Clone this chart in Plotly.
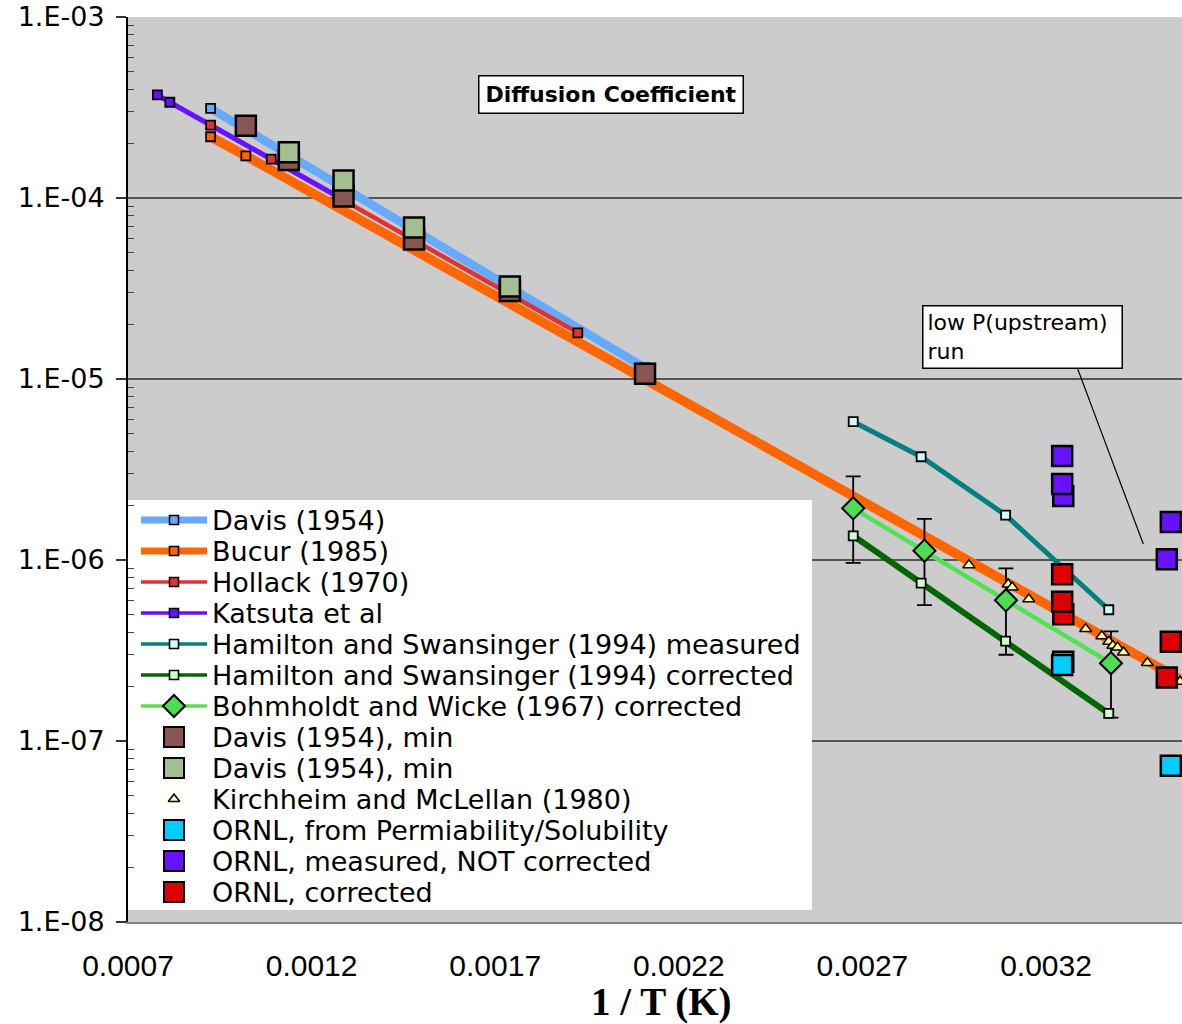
import plotly.graph_objects as go

# ---------------------------------------------------------------------------
# Data: inverse temperature 1/T (1/K) and hydrogen diffusion coefficient D
# ---------------------------------------------------------------------------
davis_x = [0.000925, 0.002108]
davis_y = [3.13e-4, 1.15e-5]

bucur_x = [0.000925, 0.001021, 0.0036]
bucur_y = [2.18e-4, 1.71e-4, 2.0e-7]

hollack_x = [0.000925, 0.00109, 0.001925]
hollack_y = [2.53e-4, 1.64e-4, 1.80e-5]

katsuta_x = [0.00078, 0.000814, 0.001287]
katsuta_y = [3.71e-4, 3.38e-4, 9.8e-5]

ham_meas_x = [0.002675, 0.00286, 0.00309, 0.003371]
ham_meas_y = [5.81e-6, 3.72e-6, 1.77e-6, 5.31e-7]

ham_corr_x = [0.002675, 0.00286, 0.00309, 0.003371]
ham_corr_y = [1.36e-6, 7.46e-7, 3.56e-7, 1.42e-7]

bohm_x = [0.002675, 0.002869, 0.003091, 0.003377]
bohm_y = [1.93e-6, 1.126e-6, 5.99e-7, 2.69e-7]
bohm_err_pct = 50

davis_min_a_x = [0.001021, 0.001138, 0.001287, 0.001479, 0.00174, 0.002108]
davis_min_a_y = [2.51e-4, 1.62e-4, 1.02e-4, 5.89e-5, 3.06e-5, 1.07e-5]

davis_min_b_x = [0.001138, 0.001287, 0.001479, 0.00174]
davis_min_b_y = [1.79e-4, 1.25e-4, 6.87e-5, 3.24e-5]

kirch_x = [0.00299, 0.003097, 0.003108, 0.003153, 0.003308, 0.003352,
           0.003371, 0.003382, 0.003395, 0.003411, 0.003476, 0.003565]
kirch_y = [9.38e-7, 7.34e-7, 7.07e-7, 6.07e-7, 4.16e-7, 3.80e-7,
           3.54e-7, 3.36e-7, 3.29e-7, 3.09e-7, 2.70e-7, 2.13e-7]

ornl_perm_x = [0.003247, 0.003244, 0.00354]
ornl_perm_y = [2.74e-7, 2.63e-7, 7.30e-8]

ornl_meas_x = [0.003247, 0.003244, 0.003244, 0.00354, 0.003529]
ornl_meas_y = [2.26e-6, 2.63e-6, 3.75e-6, 1.62e-6, 1.01e-6]

ornl_corr_x = [0.003247, 0.003244, 0.003244, 0.00354, 0.003529]
ornl_corr_y = [5.01e-7, 5.88e-7, 8.34e-7, 3.54e-7, 2.24e-7]

x_tickvals = [0.0007, 0.0012, 0.0017, 0.0022, 0.0027, 0.0032]
x_ticktext = ["0.0007", "0.0012", "0.0017", "0.0022", "0.0027", "0.0032"]
y_tickvals = [1e-8, 1e-7, 1e-6, 1e-5, 1e-4, 1e-3]
y_ticktext = ["1.E-08", "1.E-07", "1.E-06", "1.E-05", "1.E-04", "1.E-03"]

legend_labels = [
    "Davis (1954)",
    "Bucur (1985)",
    "Hollack (1970)",
    "Katsuta et al",
    "Hamilton and Swansinger (1994) measured",
    "Hamilton and Swansinger (1994) corrected",
    "Bohmholdt and Wicke (1967) corrected",
    "Davis (1954), min",
    "Davis (1954), min",
    "Kirchheim and McLellan (1980)",
    "ORNL, from Permiability/Solubility",
    "ORNL, measured, NOT corrected",
    "ORNL, corrected",
]

# ---------------------------------------------------------------------------
# Styles
# ---------------------------------------------------------------------------
C_DAVIS = "#66AAFF"
C_BUCUR = "#FF6600"
C_HOLLACK = "#DD3333"
C_KATSUTA = "#6611FF"
C_HAM_M = "#008080"
C_HAM_M_FILL = "#CCFFFF"
C_HAM_C = "#006600"
C_HAM_C_FILL = "#CCFFCC"
C_BOHM_LINE = "#55E055"
C_BOHM_FILL = "#4CDD55"
C_BROWN = "#885555"
C_SAGE = "#A3BE8F"
C_KIRCH = "#FFFF99"
C_CYAN = "#00CCFF"
C_PURPLE = "#6611FF"
C_RED = "#DD0000"

# Plot-area geometry in page pixels
PLOT_L, PLOT_R, PLOT_T, PLOT_B = 128, 1182, 17, 922
W, H = 1182, 1024


def paper_x(px):
    return (px - PLOT_L) / (PLOT_R - PLOT_L)


def paper_y(py):
    return (PLOT_B - py) / (PLOT_B - PLOT_T)


# x range chosen so that 0.0005 spans 183.6 px starting at 0.0007
X_MIN = 0.0007
X_MAX = X_MIN + (PLOT_R - PLOT_L) / 183.6 * 0.0005

fig = go.Figure()

# Connected series: (x, y, line colour, line width, marker fill, symbol, size)
line_series = [
    (davis_x, davis_y, C_DAVIS, 8.5, C_DAVIS, "square", 9),
    (bucur_x, bucur_y, C_BUCUR, 9.5, C_BUCUR, "square", 9),
    (hollack_x, hollack_y, C_HOLLACK, 4.5, C_HOLLACK, "square", 9),
    (katsuta_x, katsuta_y, C_KATSUTA, 5, C_KATSUTA, "square", 9),
    (ham_meas_x, ham_meas_y, C_HAM_M, 5, C_HAM_M_FILL, "square", 9),
    (bohm_x, bohm_y, C_BOHM_LINE, 4.5, C_BOHM_FILL, "diamond", 17),
    (ham_corr_x, ham_corr_y, C_HAM_C, 6, C_HAM_C_FILL, "square", 9),
]

# Lines (and error bars) go underneath every marker
for x, y, lc, lw, fc, sym, sz in line_series:
    extra = {}
    if x is bohm_x:
        extra["error_y"] = dict(type="percent", value=bohm_err_pct,
                                symmetric=True, color="black",
                                thickness=1.8, width=7.5)
    fig.add_trace(go.Scatter(x=x, y=y, mode="lines",
                             line=dict(color=lc, width=lw),
                             hoverinfo="skip", **extra))

for x, y, lc, lw, fc, sym, sz in line_series:
    fig.add_trace(go.Scatter(
        x=x, y=y, mode="markers",
        marker=dict(symbol=sym, size=sz, color=fc, opacity=1,
                    line=dict(color="black", width=2 if sz > 12 else 1.8)),
        hoverinfo="skip"))

# Marker-only series: (x, y, fill, symbol, size, outline width)
point_series = [
    (davis_min_a_x, davis_min_a_y, C_BROWN, "square", 20, 2.5),
    (davis_min_b_x, davis_min_b_y, C_SAGE, "square", 20, 2.5),
    (kirch_x, kirch_y, C_KIRCH, "triangle-up", 10.5, 1.5),
    (ornl_perm_x, ornl_perm_y, C_CYAN, "square", 20, 2.5),
    (ornl_meas_x, ornl_meas_y, C_PURPLE, "square", 20, 2.5),
    (ornl_corr_x, ornl_corr_y, C_RED, "square", 20, 2.5),
]
for x, y, fc, sym, sz, mw in point_series:
    fig.add_trace(go.Scatter(
        x=x, y=y, mode="markers",
        marker=dict(symbol=sym, size=sz, color=fc, opacity=1,
                    line=dict(color="black", width=mw)),
        hoverinfo="skip"))

# ---------------------------------------------------------------------------
# Key drawn on an overlay in page-pixel units
# ---------------------------------------------------------------------------
KEY_L, KEY_R, KEY_T, KEY_B = 128, 812, 500, 910
KEY_ROW0, KEY_STEP = 520, 31
KEY_LINE_X0, KEY_LINE_X1, KEY_MARK_X, KEY_TEXT_X = 141, 207, 174, 211

key_styles = [
    # line colour, line width, symbol, fill, size
    (C_DAVIS, 7, "square", C_DAVIS, 9),
    (C_BUCUR, 7, "square", C_BUCUR, 9),
    (C_HOLLACK, 3.5, "square", C_HOLLACK, 9),
    (C_KATSUTA, 3.5, "square", C_KATSUTA, 9),
    (C_HAM_M, 3.5, "square", C_HAM_M_FILL, 9),
    (C_HAM_C, 3.5, "square", C_HAM_C_FILL, 9),
    (C_BOHM_LINE, 3.5, "diamond", C_BOHM_FILL, 17),
    (None, 0, "square", C_BROWN, 20),
    (None, 0, "square", C_SAGE, 20),
    (None, 0, "triangle-up", C_KIRCH, 10),
    (None, 0, "square", C_CYAN, 20),
    (None, 0, "square", C_PURPLE, 20),
    (None, 0, "square", C_RED, 20),
]
key_rows = [KEY_ROW0 + KEY_STEP * i for i in range(len(legend_labels))]

fig.add_trace(go.Scatter(
    x=[KEY_L, KEY_R, KEY_R, KEY_L, KEY_L],
    y=[KEY_T, KEY_T, KEY_B, KEY_B, KEY_T],
    mode="lines", fill="toself", fillcolor="white",
    line=dict(width=0, color="white"),
    xaxis="x2", yaxis="y2", hoverinfo="skip"))

for (lc, lw, sym, fc, sz), ry in zip(key_styles, key_rows):
    if lc:
        fig.add_trace(go.Scatter(
            x=[KEY_LINE_X0, KEY_LINE_X1], y=[ry, ry], mode="lines",
            line=dict(color=lc, width=lw), xaxis="x2", yaxis="y2",
            hoverinfo="skip"))

fig.add_trace(go.Scatter(
    x=[KEY_MARK_X] * len(key_rows), y=key_rows, mode="markers",
    marker=dict(symbol=[s[2] for s in key_styles],
                color=[s[3] for s in key_styles],
                size=[s[4] for s in key_styles],
                opacity=1,
                line=dict(color="black",
                          width=[2 if s[4] >= 17 else 1.6 for s in key_styles])),
    xaxis="x2", yaxis="y2", hoverinfo="skip"))

# Leader line from the note box
fig.add_trace(go.Scatter(
    x=[1077.7, 1143.3], y=[369, 544], mode="lines",
    line=dict(color="black", width=1.2), xaxis="x2", yaxis="y2",
    hoverinfo="skip"))

annotations = []
for label, ry in zip(legend_labels, key_rows):
    annotations.append(dict(
        text=label, x=paper_x(KEY_TEXT_X), y=paper_y(ry),
        xref="paper", yref="paper", xanchor="left", yanchor="middle",
        showarrow=False, borderpad=0,
        font=dict(family="DejaVu Sans", size=27, color="black")))

annotations.append(dict(
    text="<b>Diffusion Coefficient</b>", x=paper_x(610.5), y=paper_y(94.4),
    xref="paper", yref="paper", xanchor="center", yanchor="middle",
    showarrow=False, bgcolor="white", bordercolor="black", borderwidth=1.5,
    borderpad=2, width=259, height=32,
    font=dict(family="DejaVu Sans", size=22, color="black")))

annotations.append(dict(
    text="low P(upstream)<br>run", x=paper_x(1022.5), y=paper_y(336.7),
    xref="paper", yref="paper", xanchor="center", yanchor="middle",
    showarrow=False, align="left", bgcolor="white", bordercolor="black",
    borderwidth=1.5, borderpad=4, width=190, height=53,
    font=dict(family="DejaVu Sans", size=22, color="black")))

annotations.append(dict(
    text="<b>1 / T (K)</b>", x=paper_x(661), y=paper_y(1002),
    xref="paper", yref="paper", xanchor="center", yanchor="middle",
    showarrow=False, borderpad=0,
    font=dict(family="Liberation Serif", size=39, color="black")))

minor_vals = [m * 10.0 ** e for e in range(-8, -3) for m in range(2, 10)]

fig.update_layout(
    width=W, height=H,
    margin=dict(l=PLOT_L, r=W - PLOT_R, t=PLOT_T, b=H - PLOT_B, pad=0),
    paper_bgcolor="white", plot_bgcolor="#CCCCCC",
    showlegend=False,
    annotations=annotations,
    xaxis=dict(
        range=[X_MIN, X_MAX], tickvals=x_tickvals, ticktext=x_ticktext,
        showgrid=False, zeroline=False, showline=True,
        linecolor="#808080", linewidth=2, ticks="",
        ticklabelstandoff=16,
        tickfont=dict(family="Liberation Sans", size=30, color="black")),
    yaxis=dict(
        type="log", range=[-8, -3], tickvals=y_tickvals, ticktext=y_ticktext,
        showgrid=True, gridcolor="#555555", gridwidth=1.5,
        zeroline=False, showline=True, linecolor="black", linewidth=2,
        ticks="outside", ticklen=10, tickwidth=1.5, tickcolor="#333333",
        ticklabelstandoff=6,
        tickfont=dict(family="DejaVu Sans", size=27, color="black"),
        minor=dict(tickvals=minor_vals, ticks="inside", ticklen=6,
                   tickwidth=1.2, tickcolor="#444444", showgrid=False)),
    xaxis2=dict(overlaying="x", range=[PLOT_L, PLOT_R], visible=False),
    yaxis2=dict(overlaying="y", range=[PLOT_B, PLOT_T], visible=False),
)

fig.write_html("out.html")
